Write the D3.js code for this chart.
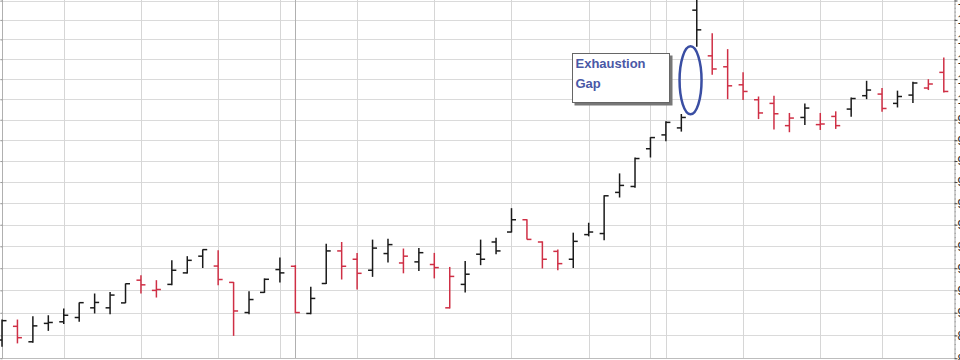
<!DOCTYPE html>
<html>
<head>
<meta charset="utf-8">
<script src="https://cdn.jsdelivr.net/npm/d3@7"></script>
<style>
	body { margin: 0; background: #fff; overflow: hidden; }
	svg { display: block; }
</style>
</head>
<body>
<div id="main"></div>
<script>
// daily bars, values
var opens  = [8.88, 8.94, 8.872, 8.953, 8.96, 8.979, 9.022, 9.022, 9.044, 9.146,
	9.10, 9.127, 9.179, 9.255, 9.21, 9.136, 9.001, 9.091, 9.194, 9.209,
	8.997, 9.131, 9.279, 9.241, 9.191, 9.267, 9.224, 9.229, 9.217, 9.022,
	9.127, 9.264, 9.32, 9.366, 9.423, 9.32, 9.277, 9.241, 9.354, 9.359,
	9.551, 9.579, 9.759, 9.826, 9.86, 10.45, 10.217, 10.162, 10.072, 9.998,
	9.98, 9.871, 9.911, 9.876, 9.916, 9.952, 10.018, 10.026, 9.98, 10.021,
	10.056, 10.134];
var highs  = [8.97, 8.97, 8.985, 8.989, 9.019, 9.046, 9.086, 9.093, 9.131, 9.168,
	9.146, 9.236, 9.255, 9.286, 9.282, 9.138, 9.096, 9.154, 9.249, 9.214,
	9.116, 9.312, 9.32, 9.27, 9.331, 9.335, 9.29, 9.292, 9.27, 9.206,
	9.233, 9.331, 9.34, 9.477, 9.425, 9.323, 9.285, 9.363, 9.409, 9.537,
	9.641, 9.717, 9.815, 9.892, 9.928, 10.56, 10.332, 10.251, 10.134, 10.014,
	10.018, 9.933, 9.98, 9.933, 9.941, 10.009, 10.092, 10.056, 10.043, 10.087,
	10.1, 10.209];
var lows   = [8.85, 8.865, 8.868, 8.92, 8.95, 8.96, 8.997, 8.993, 9.043, 9.086,
	9.068, 9.123, 9.176, 9.201, 9.123, 8.898, 8.994, 9.089, 9.136, 8.998,
	8.993, 9.129, 9.149, 9.104, 9.161, 9.226, 9.177, 9.188, 9.154, 9.019,
	9.091, 9.214, 9.264, 9.364, 9.331, 9.199, 9.191, 9.201, 9.346, 9.328,
	9.527, 9.573, 9.717, 9.795, 9.842, 10.263, 10.122, 10.001, 9.997, 9.903,
	9.852, 9.839, 9.874, 9.85, 9.855, 9.915, 10.001, 9.939, 9.96, 9.982,
	10.046, 10.034];
var closes = [8.965, 8.89, 8.942, 8.957, 8.989, 9.045, 9.046, 9.079, 9.13, 9.125,
	9.104, 9.191, 9.236, 9.285, 9.149, 9.008, 9.059, 9.15, 9.179, 9.001,
	9.064, 9.279, 9.209, 9.177, 9.292, 9.308, 9.255, 9.271, 9.203, 9.163,
	9.173, 9.241, 9.279, 9.423, 9.332, 9.241, 9.221, 9.323, 9.366, 9.535,
	9.584, 9.712, 9.813, 9.887, 9.911, 10.349, 10.151, 10.067, 10.039, 9.933,
	9.929, 9.908, 9.957, 9.879, 9.871, 10.004, 10.046, 9.955, 10.014, 10.081,
	10.076, 10.039];

// first bar of each week (vertical grid), one darker line
var weekStarts = [0, 4, 9, 14, 18, 19, 23, 28, 33, 38, 42, 43, 48, 53, 57];
var monthStart = 19;

var priceTicks = [8.8, 8.9, 9.0, 9.1, 9.2, 9.3, 9.4, 9.5, 9.6, 9.7, 9.8, 9.9,
	10.0, 10.1, 10.2, 10.3, 10.4, 10.5];

var noteLines = ['Exhaustion', 'Gap'];

var svgWidth = 960, svgHeight = 360;
var plotRight = 954.5, plotBottom = 358.5;

var svg = d3.select('#main').append('svg')
	.attr('width', svgWidth)
	.attr('height', svgHeight);

var x = d3.scaleLinear().domain([0, 61]).range([2, 943.8]);
var y = d3.scaleLog().domain([8.8, 10.5]).range([358.3, 0.5]);

var bars = opens.map(function(o, i){
	return {i: i, o: o, h: highs[i], l: lows[i], c: closes[i],
		up: i == 0 ? true : closes[i] >= closes[i - 1]};
});

// grid
var grid = svg.append('g').attr('class', 'grid');
grid.selectAll('line.h')
	.data(priceTicks)
	.enter()
	.append('line')
	.attr('x1', 0).attr('x2', plotRight)
	.attr('y1', function(d){ return Math.round(y(d)) + 0.5; })
	.attr('y2', function(d){ return Math.round(y(d)) + 0.5; })
	.style('stroke', '#dadada');

grid.selectAll('line.v')
	.data(weekStarts)
	.enter()
	.append('line')
	.attr('x1', function(d){ return Math.round(x(d)) + 0.5; })
	.attr('x2', function(d){ return Math.round(x(d)) + 0.5; })
	.attr('y1', 0).attr('y2', plotBottom)
	.style('stroke', function(d){ return (d == monthStart || d == 0) ? '#b0b0b0' : '#d6d6d6'; });

// bottom line
svg.append('line')
	.attr('x1', 0).attr('x2', plotRight)
	.attr('y1', plotBottom).attr('y2', plotBottom)
	.style('stroke', '#bdbdbd');

// left ticks
svg.append('g')
	.attr('transform', 'translate(2.5,0)')
	.call(d3.axisLeft(y).tickValues(priceTicks).tickSize(2).tickFormat(''))
	.call(function(g){
		g.select('.domain').remove();
		g.selectAll('line').style('stroke', '#999');
	});

// right axis, labels run off the edge
var minor = d3.range(8.8, 10.5, 0.02);
svg.append('g')
	.attr('transform', 'translate(' + plotRight + ',0)')
	.selectAll('line')
	.data(minor)
	.enter()
	.append('line')
	.attr('x1', 0).attr('x2', 1.5)
	.attr('y1', function(d){ return y(d); })
	.attr('y2', function(d){ return y(d); })
	.style('stroke', '#aaa');

svg.append('g')
	.attr('transform', 'translate(' + plotRight + ',0)')
	.call(d3.axisRight(y).tickValues(priceTicks).tickSize(3).tickPadding(0)
		.tickFormat(d3.format('.2f')))
	.call(function(g){
		g.select('.domain').attr('d', 'M0.5,0V' + plotBottom).style('stroke', '#a0a0a0');
		g.selectAll('.tick line').style('stroke', '#444');
		g.selectAll('text').style('font-family', 'Liberation Sans, Arial, sans-serif')
			.style('font-size', '12px').style('fill', '#222');
	});

// OHLC bars
var tick = 4.5;
var barG = svg.append('g').attr('class', 'bars')
	.selectAll('g')
	.data(bars)
	.enter()
	.append('g')
	.style('stroke', function(d){ return d.up ? '#1a1a1a' : '#cf2f45'; })
	.style('stroke-width', 1.5);

barG.append('line')
	.attr('x1', function(d){ return x(d.i); })
	.attr('x2', function(d){ return x(d.i); })
	.attr('y1', function(d){ return y(d.h); })
	.attr('y2', function(d){ return y(d.l); });

barG.append('line')
	.attr('x1', function(d){ return x(d.i) - tick; })
	.attr('x2', function(d){ return x(d.i); })
	.attr('y1', function(d){ return y(d.o); })
	.attr('y2', function(d){ return y(d.o); });

barG.append('line')
	.attr('x1', function(d){ return x(d.i); })
	.attr('x2', function(d){ return x(d.i) + tick; })
	.attr('y1', function(d){ return y(d.c); })
	.attr('y2', function(d){ return y(d.c); });

// annotation: callout box and ellipse round the gap
var note = svg.append('g').attr('class', 'note');
note.append('rect')
	.attr('x', 574.5).attr('y', 55.5)
	.attr('width', 98).attr('height', 50)
	.style('fill', '#777');
note.append('rect')
	.attr('x', 572.5).attr('y', 53.5)
	.attr('width', 97).attr('height', 49)
	.style('fill', '#fff')
	.style('stroke', '#666');
note.selectAll('text')
	.data(noteLines)
	.enter()
	.append('text')
	.attr('x', 575.5)
	.attr('y', function(d, k){ return 68 + k * 20; })
	.text(function(d){ return d; })
	.style('font-family', 'Liberation Sans, Arial, sans-serif')
	.style('font-weight', 'bold')
	.style('font-size', '13px')
	.style('fill', '#4a58a6');

note.append('ellipse')
	.attr('cx', (x(44) + x(45)) / 2 + 1.5)
	.attr('cy', (y(highs[44]) + y(lows[45])) / 2)
	.attr('rx', 11).attr('ry', 34)
	.style('fill', 'none')
	.style('stroke', '#3a4ea3')
	.style('stroke-width', 2.5);
</script>
</body>
</html>
